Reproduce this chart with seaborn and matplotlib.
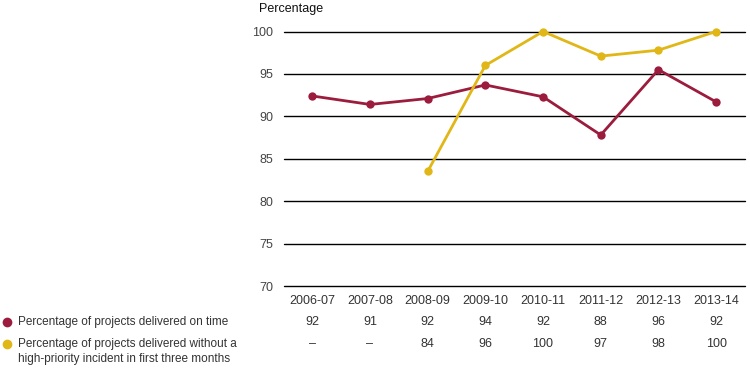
import numpy as np
import pandas as pd
import matplotlib
matplotlib.use("Agg")
import matplotlib.pyplot as plt
import matplotlib.transforms as mtransforms
from matplotlib.lines import Line2D
import seaborn as sns

years = ['2006-07', '2007-08', '2008-09', '2009-10', '2010-11', '2011-12', '2012-13', '2013-14']
on_time = [92.4, 91.4, 92.1, 93.7, 92.3, 87.8, 95.5, 91.7]
no_incident = [np.nan, np.nan, 83.5, 96.0, 100.0, 97.1, 97.8, 100.0]
on_time_labels = ['92', '91', '92', '94', '92', '88', '96', '92']
no_incident_labels = ['–', '–', '84', '96', '100', '97', '98', '100']
series_names = ['Percentage of projects delivered on time',
                'Percentage of projects delivered without a',
                'high-priority incident in first three months']
y_ticks = [70, 75, 80, 85, 90, 95, 100]

RED = '#9b1c3c'
YEL = '#e0b716'
TXT = '#333333'

sns.set_style("white")
plt.rcParams['font.family'] = ['Liberation Sans', 'DejaVu Sans']

W, H = 750, 370
fig = plt.figure(figsize=(7.5, 3.7), dpi=100)
ax = fig.add_axes([284 / W, 1 - 286 / H, (745 - 284) / W, (286 - 31.5) / H])

x = np.arange(len(years))
df = pd.DataFrame({'x': x, 'on': on_time, 'inc': no_incident})
sns.lineplot(data=df, x='x', y='on', ax=ax, color=RED, marker='o', markersize=6,
             markeredgewidth=0, linewidth=2, clip_on=False)
sns.lineplot(data=df.dropna(), x='x', y='inc', ax=ax, color=YEL, marker='o', markersize=6,
             markeredgewidth=0, linewidth=2, clip_on=False)

ax.set_ylim(70, 100)
ax.set_xlim(-0.49, 7.5)
ax.set_yticks(y_ticks)
ax.set_yticklabels([str(v) for v in y_ticks])
ax.set_xticks(x)
ax.set_xticklabels(years)
for v in y_ticks:
    ax.axhline(v, color='black', linewidth=1, zorder=0, clip_on=False)
for s in ax.spines.values():
    s.set_visible(False)
ax.tick_params(axis='y', length=0, pad=8, labelsize=9, labelcolor='#444444')
ax.tick_params(axis='x', length=0, pad=6.5, labelsize=9, labelcolor=TXT)
ax.set_xlabel('')
ax.set_ylabel('')

fig.text(259 / W, 1 - 9 / H, 'Percentage', ha='left', va='center', fontsize=9, color='#111111')

trans = mtransforms.blended_transform_factory(ax.transData, fig.transFigure)
for xi, lab in zip(x, on_time_labels):
    ax.text(xi, 1 - 322 / H, lab, transform=trans, ha='center', va='center', fontsize=9, color=TXT)
for xi, lab in zip(x, no_incident_labels):
    ax.text(xi, 1 - 344 / H, lab, transform=trans, ha='center', va='center', fontsize=9, color=TXT)

fig.add_artist(Line2D([7 / W], [1 - 322 / H], transform=fig.transFigure, marker='o',
                      markersize=7, color=RED, markeredgewidth=0, linestyle='none'))
fig.add_artist(Line2D([7 / W], [1 - 344 / H], transform=fig.transFigure, marker='o',
                      markersize=7, color=YEL, markeredgewidth=0, linestyle='none'))
fig.text(18 / W, 1 - 322 / H, series_names[0], ha='left', va='center', fontsize=8.5, color=TXT)
fig.text(18 / W, 1 - 344 / H, series_names[1], ha='left', va='center', fontsize=8.5, color=TXT)
fig.text(18 / W, 1 - 359 / H, series_names[2], ha='left', va='center', fontsize=8.5, color=TXT)

fig.savefig('out.png', dpi=100)
